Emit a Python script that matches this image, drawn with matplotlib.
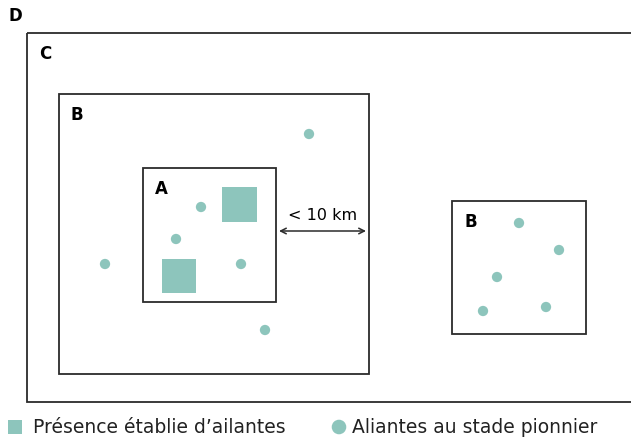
import matplotlib.pyplot as plt
from matplotlib.patches import Rectangle

# Boxes (label, x0, y0, x1, y1) in picture units
box_labels = ["C", "B", "A", "B"]
box_x0 = [27, 59, 143, 452]
box_y0 = [34, 95, 169, 202]
box_x1 = [640, 369, 276, 586]
box_y1 = [403, 375, 303, 335]

# Established presence (squares): x0, y0, size
sq_x = [222, 162]
sq_y = [188, 260]
sq_size = [35, 34]

# Pioneer stage (dots)
dot_x = [309, 201, 176, 241, 105, 265, 519, 559, 497, 483, 546]
dot_y = [135, 208, 240, 265, 265, 331, 224, 251, 278, 312, 308]

teal = "#8dc5bc"
edge = "#2b2b2b"

fig = plt.figure(figsize=(6.31, 4.39), dpi=100)
ax = fig.add_axes([0, 0, 1, 1])
ax.set_xlim(0, 631)
ax.set_ylim(439, 0)
ax.axis("off")

ax.text(8, 16, "D", fontsize=12, fontweight="bold", va="center", ha="left")

for lab, x0, y0, x1, y1 in zip(box_labels, box_x0, box_y0, box_x1, box_y1):
  ax.add_patch(Rectangle((x0, y0), x1 - x0, y1 - y0, fill=False,
                         edgecolor=edge, linewidth=1.3, clip_on=False))
  ax.text(x0 + 12, y0 + 20, lab, fontsize=12, fontweight="bold",
          va="center", ha="left")

for x, y, s in zip(sq_x, sq_y, sq_size):
  ax.add_patch(Rectangle((x, y), s, s, facecolor=teal, edgecolor="none"))

ax.scatter(dot_x, dot_y, s=55, color=teal, edgecolors="none", zorder=3)

# distance arrow between A and B
ax.annotate("", xy=(279, 232), xytext=(366, 232),
            arrowprops=dict(arrowstyle="<->", color=edge, lw=1.1,
                            shrinkA=0, shrinkB=0))
ax.text(323, 216, "< 10 km", fontsize=11.5, ha="center", va="center")

# legend
ax.add_patch(Rectangle((8, 421), 14, 14, facecolor=teal, edgecolor="none"))
ax.text(33, 428, "Présence établie d’ailantes", fontsize=13.5,
        ha="left", va="center", color="#222222")
ax.scatter([339], [428], s=110, color=teal, edgecolors="none")
ax.text(352, 428, "Aliantes au stade pionnier", fontsize=13.5,
        ha="left", va="center", color="#222222")

fig.savefig("out.png", dpi=100, facecolor="white")
